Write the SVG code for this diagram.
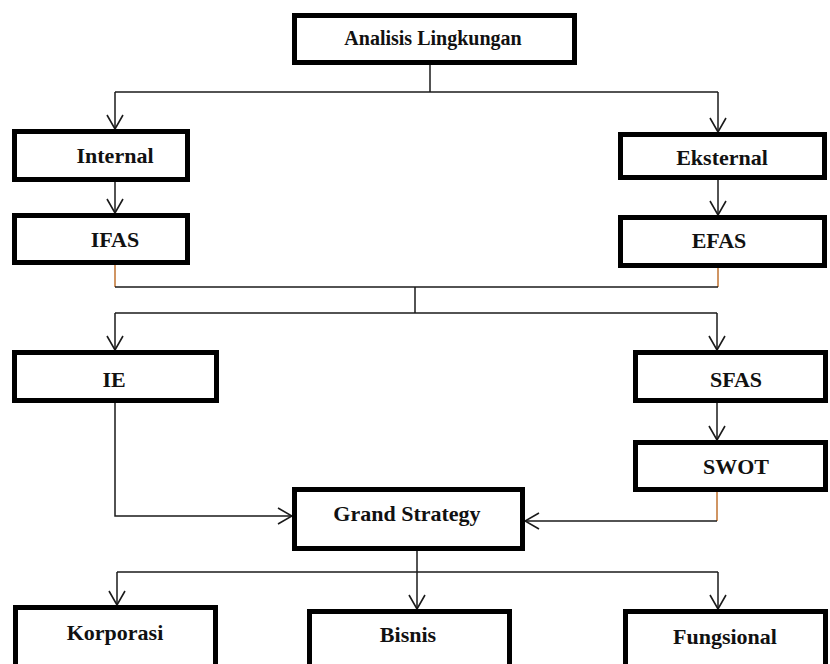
<svg xmlns="http://www.w3.org/2000/svg" width="830" height="664" viewBox="0 0 830 664">
<style>
.box{fill:#fff;stroke:#000;stroke-width:5}
.t{font-family:"Liberation Serif","Times New Roman",serif;font-weight:bold;font-size:22px;fill:#111;text-anchor:middle}
.ln{fill:none;stroke:#1a1a1a;stroke-width:1.5}
.or{fill:none;stroke:#c0722f;stroke-width:1.5}
</style>
<defs>
<marker id="ah" viewBox="0 0 16 18" refX="15" refY="9" markerWidth="16" markerHeight="18" markerUnits="userSpaceOnUse" orient="auto">
<path d="M1,1 L15,9 L1,17" fill="none" stroke="#1a1a1a" stroke-width="1.6"/>
</marker>
</defs>
<rect width="830" height="664" fill="#fff"/>
<g id="connectors">
<path class="ln" d="M430,65 V92"/>
<path class="ln" d="M115,92 H718"/>
<path class="ln" d="M115,92 V129" marker-end="url(#ah)"/>
<path class="ln" d="M718,92 V132" marker-end="url(#ah)"/>
<path class="ln" d="M115,182 V213" marker-end="url(#ah)"/>
<path class="ln" d="M718,180 V215" marker-end="url(#ah)"/>
<path class="or" d="M115,265 V287"/>
<path class="or" d="M718,268 V287"/>
<path class="ln" d="M115,287 H718"/>
<path class="ln" d="M415,287 V313"/>
<path class="ln" d="M115,313 H717"/>
<path class="ln" d="M115,313 V350" marker-end="url(#ah)"/>
<path class="ln" d="M717,313 V350" marker-end="url(#ah)"/>
<path class="ln" d="M115,403 V516 H292" marker-end="url(#ah)"/>
<path class="ln" d="M717,403 V440" marker-end="url(#ah)"/>
<path class="or" d="M717,492 V521"/>
<path class="ln" d="M717,521 H525" marker-end="url(#ah)"/>
<path class="ln" d="M417,551 V572"/>
<path class="ln" d="M117,572 H718"/>
<path class="ln" d="M117,572 V605" marker-end="url(#ah)"/>
<path class="ln" d="M417,572 V609" marker-end="url(#ah)"/>
<path class="ln" d="M718,572 V609" marker-end="url(#ah)"/>
</g>
<g id="analisis"><rect class="box" x="294.5" y="15.5" width="280" height="47"/><text class="t" x="433" y="45" style="font-size:20px">Analisis Lingkungan</text></g>
<g id="internal"><rect class="box" x="14.5" y="131.5" width="173" height="48"/><text class="t" x="115" y="163">Internal</text></g>
<g id="ifas"><rect class="box" x="14.5" y="215.5" width="173" height="47"/><text class="t" x="115" y="247">IFAS</text></g>
<g id="eksternal"><rect class="box" x="620.5" y="134.5" width="204" height="43"/><text class="t" x="722" y="165">Eksternal</text></g>
<g id="efas"><rect class="box" x="620.5" y="217.5" width="204" height="48"/><text class="t" x="719" y="248">EFAS</text></g>
<g id="ie"><rect class="box" x="14.5" y="352.5" width="202" height="48"/><text class="t" x="114" y="387">IE</text></g>
<g id="sfas"><rect class="box" x="635.5" y="352.5" width="190" height="48"/><text class="t" x="736" y="387">SFAS</text></g>
<g id="swot"><rect class="box" x="635.5" y="442.5" width="190" height="47"/><text class="t" x="736" y="474">SWOT</text></g>
<g id="grand"><rect class="box" x="294.5" y="489.5" width="228" height="59"/><text class="t" x="407" y="521">Grand Strategy</text></g>
<g id="korporasi"><rect class="box" x="15.5" y="607.5" width="200" height="70"/><text class="t" x="115" y="640">Korporasi</text></g>
<g id="bisnis"><rect class="box" x="309.5" y="611.5" width="200" height="70"/><text class="t" x="408" y="642">Bisnis</text></g>
<g id="fungsional"><rect class="box" x="625.5" y="611.5" width="200" height="70"/><text class="t" x="725" y="644">Fungsional</text></g>
</svg>
